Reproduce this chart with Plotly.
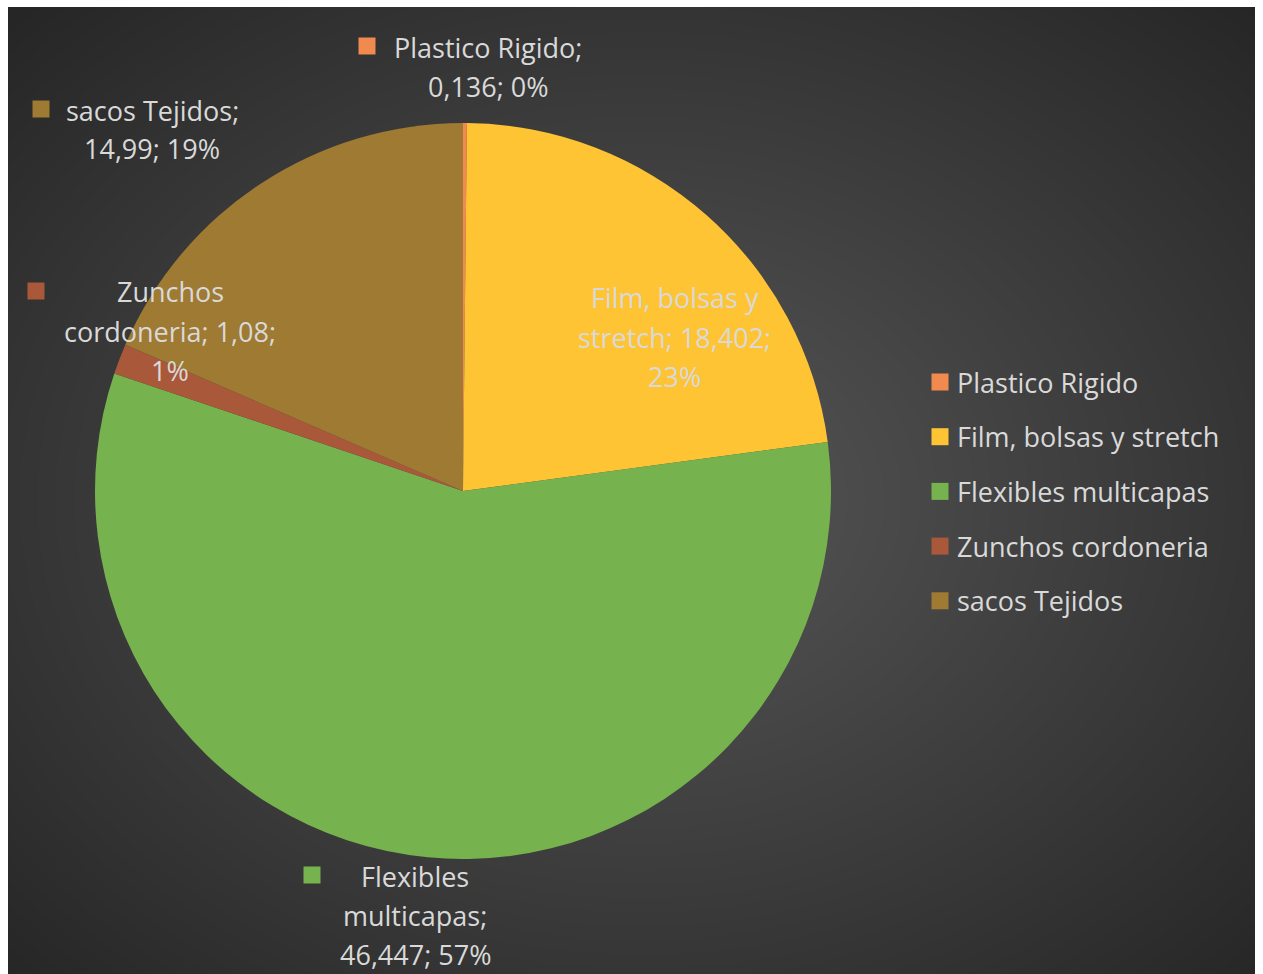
import textwrap
import numpy as np
import plotly.graph_objects as go

# ---- data ---------------------------------------------------------------
categories = [
    "Plastico Rigido",
    "Film, bolsas y stretch",
    "Flexibles multicapas",
    "Zunchos cordoneria",
    "sacos Tejidos",
]
values = [0.136, 18.402, 46.447, 1.08, 14.99]
percent_labels = [0, 23, 57, 1, 19]

# ---- styling ------------------------------------------------------------
colors = ["#F08A4E", "#FFC433", "#76B24E", "#A9583A", "#9E7A32"]
text_color = "#D9D9D9"
font_family = "'Open Sans', sans-serif"
font_size = 27

W, H = 1263, 974
ML, MR, MT, MB = 8, 8, 7, 0
PW, PH = W - ML - MR, H - MT - MB


def px(x, y):
    """Pixel position on the page -> paper coordinates."""
    return (x - ML) / PW, 1 - (y - MT) / PH


# pie geometry (pixels)
cx, cy, r = 463, 491, 368
x0, y0 = px(cx - r, cy - r)
x1, y1 = px(cx + r, cy + r)

fig = go.Figure()

# radial background shading
n = 160
gx = np.linspace(0, 1, n)
gy = np.linspace(0, 1, n)
GX, GY = np.meshgrid(gx, gy)
bx, by = px(640, 500)
dist = np.sqrt(((GX - bx) / 0.5) ** 2 + ((GY - by) / 0.5) ** 2) / np.sqrt(2)
shade = np.clip(1 - dist, 0, 1)
fig.add_trace(go.Heatmap(
    x=gx, y=gy, z=shade, zsmooth="best", showscale=False, hoverinfo="skip",
    colorscale=[[0, "#262626"], [1, "#575757"]], zmin=0, zmax=1,
))

fig.add_trace(go.Pie(
    labels=categories,
    values=values,
    sort=False,
    direction="clockwise",
    rotation=0,
    marker=dict(colors=colors, line=dict(width=0)),
    textinfo="none",
    hoverinfo="label+value+percent",
    showlegend=False,
    domain=dict(x=[x0, x1], y=[y1, y0]),
))

# ---- data labels --------------------------------------------------------
# (centre x of text block, y of first line, wrap width, marker centre x, marker centre y)
label_layout = [
    (488, 47, 16, 367, 46),
    (675, 298, 16, 550, 297),
    (415, 876, 11, 312, 875),
    (170, 292, 17, 36, 291),
    (152, 110, 14, 41, 109),
]
line_gap = 39
sq = 17

annotations = []
shapes = []
for name, val, pct, col, (lx, ly, wrap, mx, my) in zip(
        categories, values, percent_labels, colors, label_layout):
    full = f"{name}; {str(val).replace('.', ',')}; {pct}%"
    for i, line in enumerate(textwrap.wrap(full, width=wrap)):
        ax, ay = px(lx, ly + i * line_gap)
        annotations.append(dict(
            x=ax, y=ay, xref="paper", yref="paper", text=line, showarrow=False,
            xanchor="center", yanchor="middle",
            font=dict(family=font_family, size=font_size, color=text_color),
        ))
    sx0, sy0 = px(mx - sq / 2, my - sq / 2)
    sx1, sy1 = px(mx + sq / 2, my + sq / 2)
    shapes.append(dict(type="rect", xref="paper", yref="paper",
                       x0=sx0, x1=sx1, y0=sy1, y1=sy0,
                       fillcolor=col, line=dict(width=0), layer="above"))

# ---- legend -------------------------------------------------------------
leg_x_marker, leg_x_text = 940, 955
leg_y0, leg_gap = 382, 54.7
for i, (name, col) in enumerate(zip(categories, colors)):
    yy = leg_y0 + i * leg_gap
    tx, ty = px(leg_x_text, yy)
    annotations.append(dict(
        x=tx, y=ty, xref="paper", yref="paper", text=name, showarrow=False,
        xanchor="left", yanchor="middle",
        font=dict(family=font_family, size=font_size, color=text_color),
    ))
    sx0, sy0 = px(leg_x_marker - 8.5, yy - 8.5)
    sx1, sy1 = px(leg_x_marker + 8.5, yy + 8.5)
    shapes.append(dict(type="rect", xref="paper", yref="paper",
                       x0=sx0, x1=sx1, y0=sy1, y1=sy0,
                       fillcolor=col, line=dict(width=0), layer="above"))

fig.update_layout(
    width=W, height=H,
    margin=dict(l=ML, r=MR, t=MT, b=MB),
    paper_bgcolor="#FFFFFF",
    plot_bgcolor="#262626",
    xaxis=dict(range=[0, 1], visible=False, fixedrange=True),
    yaxis=dict(range=[0, 1], visible=False, fixedrange=True),
    annotations=annotations,
    shapes=shapes,
    showlegend=False,
)

fig.write_html("out.html")
